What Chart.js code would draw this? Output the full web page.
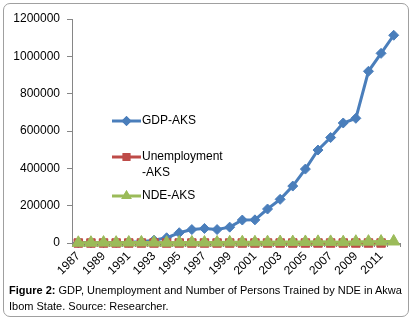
<!DOCTYPE html>
<html>
<head>
<meta charset="utf-8">
<script src="https://cdn.jsdelivr.net/npm/chart.js@4"></script>
<style>
  html, body { margin:0; padding:0; background:#fff; width:414px; height:323px; overflow:hidden; }
  #frame { position:absolute; left:3px; top:3px; width:404px; height:312px; border:1px solid #a0a0a0; border-radius:7px; }
  #wrap { position:absolute; left:0; top:0; width:414px; height:285px; }
  #caption { position:absolute; left:9px; top:282px; font-family:"Liberation Sans", Arial, sans-serif; font-size:11px; line-height:16px; color:#000; white-space:nowrap; }
</style>
</head>
<body>
<div id="frame"></div>
<div id="wrap"><canvas id="c" width="414" height="285"></canvas></div>
<div id="caption"><b>Figure 2:</b> GDP, Unemployment and Number of Persons Trained by NDE in Akwa<br>Ibom State. Source: Researcher.</div>
<script>
const years = ["1987","1988","1989","1990","1991","1992","1993","1994","1995","1996","1997","1998","1999","2000","2001","2002","2003","2004","2005","2006","2007","2008","2009","2010","2011","2012"];
const gdpAKS = [1000,1500,2000,3000,4000,7000,15000,28000,55000,72000,78000,72000,85000,123000,124000,182000,234000,305000,396000,498000,565000,643000,668000,920000,1016000,1113000];
const unemploymentAKS = [4.5,5.2,5.0,6.1,6.8,7.4,7.1,8.3,9.0,8.7,10.2,10.9,11.4,12.6,13.1,14.8,15.2,16.9,18.0,17.4,19.6,20.3,21.8,22.1,23.7,null];
const ndeAKS = [1200,1500,2100,1800,2500,3000,2200,1900,2700,3100,2400,2800,3500,4100,3800,4500,5200,4800,5600,6100,5900,4200,6800,7200,7500,8100];
const yTicks = [0,200000,400000,600000,800000,1000000,1200000];
const seriesNames = ["GDP-AKS", ["Unemployment","-AKS"], "NDE-AKS"];

const blue = "#4A7EBB", red = "#BE4B48", green = "#9BBB59";
const font = "Liberation Sans, Arial, sans-serif";

const legendPlugin = {
  id: "inlegend",
  afterDatasetsDraw(chart) {
    const ctx = chart.ctx;
    const items = [
      {y:121, color:blue, style:"rectRot", r:5, lines:[seriesNames[0]]},
      {y:157, color:red, style:"rect", r:5.5, lines:seriesNames[1]},
      {y:196, color:green, style:"triangle", r:6, lines:[seriesNames[2]]}
    ];
    ctx.save();
    items.forEach(it => {
      ctx.strokeStyle = it.color; ctx.lineWidth = 3;
      ctx.beginPath(); ctx.moveTo(112, it.y); ctx.lineTo(141, it.y); ctx.stroke();
      ctx.fillStyle = it.color;
      Chart.helpers.drawPoint(ctx, {pointStyle: it.style, radius: it.r, borderWidth: 0}, 126.5, it.y);
      ctx.fill();
      ctx.fillStyle = "#000"; ctx.font = "12px " + font; ctx.textBaseline = "middle"; ctx.textAlign = "left";
      it.lines.forEach((t, k) => ctx.fillText(t, 142, it.y + k * 16));
    });
    ctx.restore();
  }
};

new Chart(document.getElementById("c"), {
  type: "line",
  data: {
    labels: years,
    datasets: [
      {label:"GDP-AKS", data:gdpAKS, borderColor:blue, backgroundColor:blue, pointBackgroundColor:blue, pointBorderColor:blue, borderWidth:3, pointStyle:"rectRot", pointRadius:5, pointBorderWidth:1, order:3, tension:0, clip:false},
      {label:"Unemployment-AKS", data:unemploymentAKS, borderColor:red, backgroundColor:red, pointBackgroundColor:red, pointBorderColor:red, borderWidth:3, pointStyle:"rect", pointRadius:6, pointBorderWidth:1, order:2, tension:0, clip:false},
      {label:"NDE-AKS", data:ndeAKS, borderColor:green, backgroundColor:green, pointBackgroundColor:green, pointBorderColor:green, borderWidth:3, pointStyle:"triangle", pointRadius:7, pointBorderWidth:1, order:1, tension:0, clip:false}
    ]
  },
  options: {
    responsive:false, animation:false, devicePixelRatio:1,
    layout:{padding:{top:19, right:14, bottom:0, left:0}},
    plugins:{legend:{display:false}, tooltip:{enabled:false}},
    scales:{
      x:{
        offset:true,
        grid:{display:true, drawOnChartArea:false, drawTicks:true, tickLength:4, color:"#868686", offset:true},
        border:{color:"#868686", width:1},
        ticks:{autoSkip:false, maxRotation:45, minRotation:45, padding:2, color:"#000", font:{family:font, size:12},
          callback:function(v, i){ return i % 2 === 0 ? this.getLabelForValue(v) : ""; }},
        afterFit(s){ s.height = 42; }
      },
      y:{
        min:0, max:1200000,
        afterBuildTicks(s){ s.ticks = yTicks.map(v => ({value:v})); },
        grid:{display:true, drawOnChartArea:false, drawTicks:true, tickLength:5, color:"#868686"},
        border:{color:"#868686", width:1},
        ticks:{padding:7, color:"#000", font:{family:font, size:12}, callback:v => String(v)},
        afterFit(s){ s.width = 72; }
      }
    }
  },
  plugins:[legendPlugin]
});
</script>
</body>
</html>
